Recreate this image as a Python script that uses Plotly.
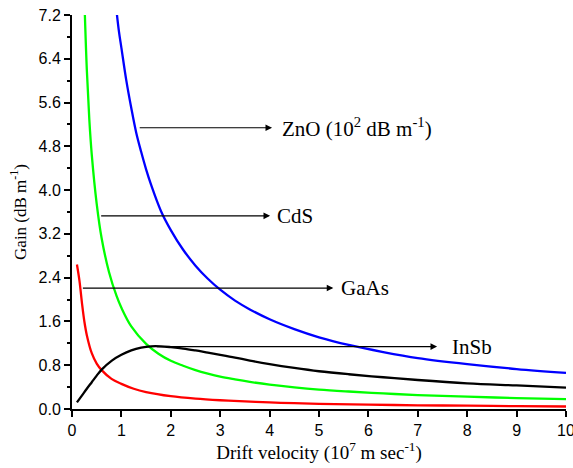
import plotly.graph_objects as go

# ZnO (blue), in 10^2 dB/m
v_zno = [0.88, 0.95, 1.0, 1.1, 1.2, 1.3, 1.4, 1.5, 1.6, 1.8, 2.0, 2.25, 2.5, 2.75, 3.0, 3.3, 3.6, 4.0, 4.5, 5.0, 5.6, 6.3, 7.0, 8.0, 9.0, 10.0]
g_zno = [7.45, 6.9, 6.6, 6.0, 5.5, 5.05, 4.7, 4.38, 4.1, 3.62, 3.27, 2.91, 2.62, 2.38, 2.18, 1.98, 1.82, 1.64, 1.46, 1.31, 1.17, 1.04, 0.93, 0.82, 0.73, 0.66]

# CdS (green)
v_cds = [0.25, 0.3, 0.35, 0.4, 0.5, 0.6, 0.75, 0.9, 1.0, 1.2, 1.5, 1.75, 2.0, 2.25, 2.5, 2.75, 3.0, 3.3, 3.6, 4.0, 4.5, 5.0, 5.6, 6.3, 7.0, 8.0, 9.0, 10.0]
g_cds = [7.5, 6.2, 5.3, 4.65, 3.75, 3.12, 2.5, 2.07, 1.85, 1.51, 1.19, 1.01, 0.88, 0.79, 0.71, 0.645, 0.59, 0.54, 0.495, 0.445, 0.395, 0.355, 0.32, 0.285, 0.255, 0.225, 0.2, 0.18]

# GaAs (red)
v_gaas = [0.1, 0.15, 0.2, 0.25, 0.3, 0.4, 0.5, 0.6, 0.8, 1.0, 1.25, 1.5, 2.0, 2.5, 3.0, 3.5, 4.0, 4.5, 5.0, 6.0, 7.0, 8.0, 9.0, 10.0]
g_gaas = [2.64, 2.35, 1.95, 1.6, 1.35, 1.02, 0.83, 0.71, 0.55, 0.46, 0.37, 0.31, 0.235, 0.19, 0.16, 0.138, 0.12, 0.106, 0.095, 0.08, 0.068, 0.06, 0.052, 0.046]

# InSb (black)
v_insb = [0.1, 0.2, 0.3, 0.4, 0.5, 0.6, 0.8, 1.0, 1.2, 1.4, 1.6, 1.8, 2.0, 2.25, 2.5, 2.75, 3.0, 3.3, 3.6, 4.0, 4.5, 5.0, 5.6, 6.3, 7.0, 8.0, 9.0, 10.0]
g_insb = [0.12, 0.245, 0.37, 0.49, 0.61, 0.72, 0.88, 0.99, 1.07, 1.12, 1.145, 1.145, 1.13, 1.105, 1.07, 1.03, 0.99, 0.94, 0.885, 0.82, 0.75, 0.69, 0.635, 0.58, 0.53, 0.47, 0.43, 0.39]

# label arrows: (tail x, head x, y, text x, text)
labels = [
    (1.34, 4.05, 5.14, 4.22, "ZnO (10<sup>2</sup> dB m<sup>-1</sup>)"),
    (0.56, 4.01, 3.53, 4.10, "CdS"),
    (0.19, 5.29, 2.21, 5.41, "GaAs"),
    (1.69, 7.39, 1.14, 7.65, "InSb"),
]

fig = go.Figure()
for xs, ys, col in [(v_zno, g_zno, "#0000ff"), (v_cds, g_cds, "#00ff00"),
                    (v_gaas, g_gaas, "#ff0000"), (v_insb, g_insb, "#000000")]:
    fig.add_trace(go.Scatter(x=xs, y=ys, mode="lines",
                             line=dict(color=col, width=2.3, shape="spline", smoothing=1.0),
                             hoverinfo="skip"))

serif = "Liberation Serif, Times New Roman, serif"
for x0, x1, y, xt, txt in labels:
    fig.add_annotation(x=x1, y=y, ax=x0, ay=y, xref="x", yref="y", axref="x", ayref="y",
                       text="", showarrow=True, arrowhead=2, arrowsize=1.1,
                       arrowwidth=1.2, arrowcolor="#000000")
    fig.add_annotation(x=xt, y=y, xref="x", yref="y", text=txt, showarrow=False,
                       xanchor="left", yanchor="middle",
                       font=dict(family=serif, size=21, color="#000000"))

fig.update_layout(
    width=573, height=468,
    margin=dict(l=72, r=7, t=15, b=59, autoexpand=False),
    plot_bgcolor="white", paper_bgcolor="white",
    showlegend=False,
    font=dict(family="Liberation Sans, Arial, sans-serif", size=16, color="#000000"),
)
fig.update_xaxes(range=[0, 10], dtick=1, showgrid=False, zeroline=False,
                 showline=True, linecolor="black", linewidth=2, automargin=False,
                 ticks="outside", ticklen=6, tickwidth=2, tickcolor="black",
                 tickfont=dict(size=16), ticklabeloverflow="allow",
                 title=dict(text="Drift velocity (10<sup>7</sup> m sec<sup>-1</sup>)",
                            font=dict(family=serif, size=19), standoff=4))
fig.update_yaxes(range=[0, 7.2], dtick=0.8, tickformat=".1f", showgrid=False, zeroline=False,
                 showline=True, linecolor="black", linewidth=2, automargin=False,
                 ticks="outside", ticklen=6, tickwidth=2, tickcolor="black",
                 tickfont=dict(size=16), ticklabeloverflow="allow",
                 minor=dict(ticks="outside", ticklen=3, tickwidth=1.5, dtick=0.4, tickcolor="black"),
                 title=dict(text="Gain (dB m<sup>-1</sup>)",
                            font=dict(family=serif, size=17), standoff=8))

fig.write_html("out.html")
